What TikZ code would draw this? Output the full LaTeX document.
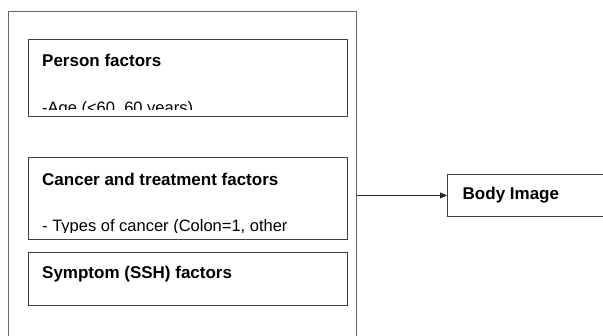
\documentclass[tikz,border=0pt]{standalone}
\usepackage{fontspec}
\setmainfont{Liberation Sans}
\usetikzlibrary{arrows.meta}
\begin{document}
\begin{tikzpicture}[x=1pt,y=-1pt,
  box/.style={draw=black!75,line width=0.9pt,rectangle,anchor=north west,inner sep=0pt},
  outerbox/.style={draw=black!60,line width=0.9pt,rectangle,anchor=north west,inner sep=0pt},
  title/.style={anchor=base west,inner sep=0pt,font=\fontsize{17}{19}\selectfont\bfseries},
  body/.style={anchor=base west,inner sep=0pt,font=\fontsize{16.5}{18}\selectfont},
  conn/.style={draw=black!85,line width=0.8pt,-{Triangle[length=7pt,width=6pt]}}]
\useasboundingbox (0,0) rectangle (603,336);
\node[outerbox,minimum width=348pt,minimum height=335pt] (outer) at (8,11) {};
\node[box,minimum width=319pt,minimum height=77pt] (person) at (28,39) {};
\node[title] (persont) at (42,66.5) {Person factors};
\begin{scope}
\clip (28,100) rectangle (347,110);
\node[body] (persona) at (42,113.5) {-Age (<60, 60 years)};
\end{scope}
\node[box,minimum width=319pt,minimum height=82pt] (cancer) at (28,157) {};
\node[title] (cancert) at (42,186) {Cancer and treatment factors};
\begin{scope}
\clip (28,215) rectangle (347,232.5);
\node[body] (cancera) at (42,232) {- Types of cancer (Colon=1, other};
\end{scope}
\node[box,minimum width=319pt,minimum height=53pt] (symptom) at (28,252) {};
\node[title] (symptomt) at (42,279) {Symptom (SSH) factors};
\node[box,minimum width=160pt,minimum height=42pt] (bodyimg) at (447,174) {};
\node[title] (bodyt) at (462.5,200) {Body Image};
\coordinate (src) at (outer.east |- bodyimg.west);
\draw[conn] (src) -- (bodyimg.west);
\end{tikzpicture}
\end{document}
